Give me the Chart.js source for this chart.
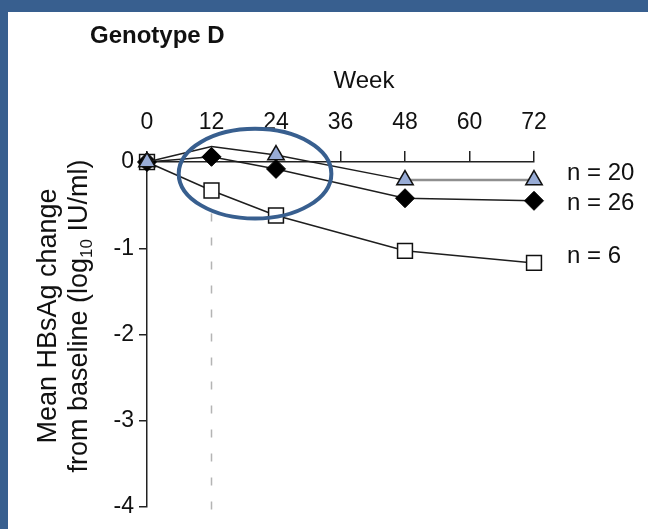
<!DOCTYPE html>
<html>
<head>
<meta charset="utf-8">
<script src="https://cdn.jsdelivr.net/npm/chart.js@4.4.1/dist/chart.umd.min.js"></script>
<style>
  html, body { margin: 0; padding: 0; background: #ffffff; }
  canvas { display: block; }
</style>
</head>
<body>
<canvas id="chart" width="648" height="529"></canvas>
<script>
// Weeks at which HBsAg was measured
const weeks = [0, 12, 24, 48, 72];
// Mean change from baseline (log10 IU/ml) per group
const triangleSeries = [0, 0.18, 0.08, -0.21, -0.21];
const diamondSeries = [0, 0.06, -0.08, -0.42, -0.45];
const squareSeries = [0, -0.33, -0.62, -1.03, -1.17];
// Group sizes printed at the right end of each curve
const groupLabels = ['n = 20', 'n = 26', 'n = 6'];
// Axis ticks
const weekTicks = [0, 12, 24, 36, 48, 60, 72];
const changeTicks = [0, -1, -2, -3, -4];

const FONT = "'Liberation Sans', Arial, Helvetica, sans-serif";
const FRAME = '#385f8f';
const INK = '#111111';

const toPoints = vals => vals.map((v, i) => ({ x: weeks[i], y: v }));

// Blue frame, heading and axis titles
const decorations = {
  id: 'decorations',
  beforeDraw(chart) {
    const ctx = chart.ctx;
    ctx.save();
    ctx.fillStyle = '#ffffff';
    ctx.fillRect(0, 0, chart.width, chart.height);
    ctx.fillStyle = FRAME;
    ctx.fillRect(0, 0, chart.width, 12);
    ctx.fillRect(0, 0, 8, chart.height);

    ctx.fillStyle = INK;
    ctx.textBaseline = 'alphabetic';
    ctx.textAlign = 'left';
    ctx.font = 'bold 24px ' + FONT;
    ctx.fillText('Genotype D', 90, 43);

    ctx.font = '24px ' + FONT;
    ctx.textAlign = 'center';
    ctx.fillText('Week', 364, 88);

    // Rotated two-line y title with a subscript "10"
    ctx.translate(0, 316);
    ctx.rotate(-Math.PI / 2);
    ctx.font = '27px ' + FONT;
    ctx.textAlign = 'center';
    ctx.fillText('Mean HBsAg change', 0, 56);

    const a = 'from baseline (log';
    const sub = '10';
    const b = ' IU/ml)';
    ctx.font = '27px ' + FONT;
    const wa = ctx.measureText(a).width;
    const wb = ctx.measureText(b).width;
    ctx.font = '17px ' + FONT;
    const ws = ctx.measureText(sub).width;
    let x0 = -(wa + ws + wb) / 2;
    ctx.textAlign = 'left';
    ctx.font = '27px ' + FONT;
    ctx.fillText(a, x0, 87);
    ctx.font = '17px ' + FONT;
    ctx.fillText(sub, x0 + wa, 92);
    ctx.font = '27px ' + FONT;
    ctx.fillText(b, x0 + wa + ws, 87);
    ctx.restore();
  },
  beforeDatasetsDraw(chart) {
    // Dashed reference line at week 12, dashed upward from the bottom
    const { ctx, scales: { x, y } } = chart;
    const px = x.getPixelForValue(12);
    ctx.save();
    ctx.strokeStyle = '#b4b4b4';
    ctx.lineWidth = 1.5;
    ctx.setLineDash([8, 16]);
    ctx.beginPath();
    ctx.moveTo(px, y.getPixelForValue(-4.03));
    ctx.lineTo(px, y.getPixelForValue(-0.3));
    ctx.stroke();
    ctx.restore();
  },
  afterDatasetsDraw(chart) {
    const { ctx, scales: { x, y } } = chart;
    ctx.save();
    // Group size labels next to the week-72 points
    ctx.fillStyle = INK;
    ctx.font = '24px ' + FONT;
    ctx.textAlign = 'left';
    ctx.textBaseline = 'middle';
    const lx = x.getPixelForValue(72) + 33;
    const ends = [triangleSeries, diamondSeries, squareSeries].map(s => s[s.length - 1]);
    const shifts = [-7, 3, -7];
    groupLabels.forEach((t, i) => {
      ctx.fillText(t, lx, y.getPixelForValue(ends[i]) + shifts[i]);
    });

    // Highlight ellipse around weeks 12-24
    const cx = x.getPixelForValue(20.1);
    const cy = y.getPixelForValue(-0.135);
    const rx = x.getPixelForValue(20.1 + 14.2) - cx;
    const ry = y.getPixelForValue(-0.135 - 0.52) - cy;
    ctx.strokeStyle = FRAME;
    ctx.lineWidth = 4;
    ctx.beginPath();
    ctx.ellipse(cx, cy, rx, ry, 0, 0, Math.PI * 2);
    ctx.stroke();
    ctx.restore();
  }
};

new Chart(document.getElementById('chart'), {
  type: 'line',
  data: {
    datasets: [
      {
        label: groupLabels[0],
        data: toPoints(triangleSeries),
        order: 0,
        borderColor: '#1e1e1e',
        borderWidth: 1.5,
        segment: { borderColor: c => (c.p0DataIndex === 3 ? '#8f8f8f' : undefined), borderWidth: c => (c.p0DataIndex === 3 ? 2.5 : undefined) },
        pointStyle: 'triangle',
        pointRadius: 9.5,
        pointBackgroundColor: '#98acd6',
        pointBorderColor: '#111',
        pointBorderWidth: 1.5,
        fill: false,
        tension: 0
      },
      {
        label: groupLabels[1],
        data: toPoints(diamondSeries),
        order: 1,
        borderColor: '#1e1e1e',
        borderWidth: 1.5,
        pointStyle: 'rectRot',
        pointRadius: 9.5,
        pointBackgroundColor: '#000',
        pointBorderColor: '#000',
        pointBorderWidth: 1,
        fill: false,
        tension: 0
      },
      {
        label: groupLabels[2],
        data: toPoints(squareSeries),
        order: 2,
        borderColor: '#1e1e1e',
        borderWidth: 1.5,
        pointStyle: 'rect',
        pointRadius: 10.5,
        pointBackgroundColor: '#fff',
        pointBorderColor: '#111',
        pointBorderWidth: 1.5,
        fill: false,
        tension: 0
      }
    ]
  },
  options: {
    responsive: false,
    devicePixelRatio: 1,
    animation: false,
    events: [],
    clip: false,
    layout: { padding: { left: 0, top: 0, right: 114, bottom: 22 } },
    plugins: { legend: { display: false }, tooltip: { enabled: false }, title: { display: false } },
    scales: {
      x: {
        type: 'linear',
        position: 'top',
        min: 0,
        max: 72,
        afterBuildTicks: s => { s.ticks = weekTicks.map(v => ({ value: v })); },
        afterFit: s => { s.height = 162; },
        ticks: { color: INK, font: { family: FONT, size: 23 }, padding: 15, maxRotation: 0 },
        grid: { drawOnChartArea: false, drawTicks: true, tickLength: 11, color: '#222', lineWidth: 1.5 },
        border: { display: true, color: '#222', width: 1.5 }
      },
      y: {
        type: 'linear',
        position: 'left',
        min: -4,
        max: 0,
        afterBuildTicks: s => { s.ticks = changeTicks.map(v => ({ value: v })); },
        afterFit: s => { s.width = 147; },
        ticks: { color: INK, font: { family: FONT, size: 23 }, padding: 5 },
        grid: { drawOnChartArea: false, drawTicks: true, tickLength: 8, color: '#222', lineWidth: 1.5 },
        border: { display: true, color: '#222', width: 1.5 }
      }
    }
  },
  plugins: [decorations]
});
</script>
</body>
</html>
